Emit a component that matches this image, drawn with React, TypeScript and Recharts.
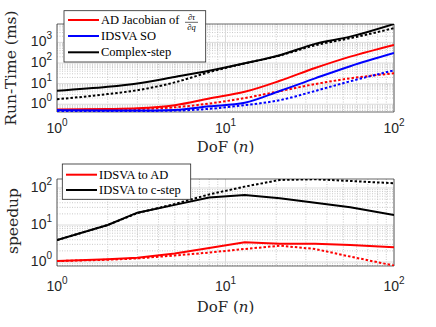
import { CartesianGrid, Line, LineChart, ReferenceArea, XAxis, YAxis } from 'recharts'

// degrees of freedom sampled
const dof = [1, 2, 3, 5, 8, 13, 21, 34, 55, 100]

// run-time (ms), solid = first case, dotted = second case
const adJacobian = [0.55, 0.58, 0.63, 0.9, 1.9, 4.0, 13.7, 57, 204, 760]
const adJacobianDot = [0.52, 0.55, 0.58, 0.71, 1.08, 2.0, 4.3, 9.5, 18, 32]
const idsvaSO = [0.52, 0.5, 0.49, 0.53, 0.79, 1.18, 4.4, 18, 70, 304]
const idsvaSODot = [0.47, 0.47, 0.47, 0.49, 0.6, 0.9, 1.57, 4.4, 13, 44]
const complexStep = [4.5, 7, 10.2, 21, 42, 97, 240, 850, 1900, 7800]
const complexStepDot = [1.75, 3.1, 4.8, 11.5, 36, 95, 230, 720, 1600, 4900]

// speedup
const toAD = [1.06, 1.18, 1.3, 1.7, 2.4, 3.4, 3.1, 3.1, 2.9, 2.5]
const toADDot = [1.06, 1.15, 1.25, 1.5, 1.8, 2.25, 2.76, 2.25, 1.4, 0.8]
const toCstep = [3.9, 10, 21.5, 35, 55, 65, 53, 40, 30, 18.6]
const toCstepDot = [3.9, 10, 21, 37, 67, 109, 165, 172, 155, 134]

const xTicks = [1, 10, 100]
const runTimeTicks = [1, 10, 100, 1000]
const speedupTicks = [1, 10, 100]
const runTimeDomain = [0.42, 7800]
const speedupDomain = [0.78, 175]

const runTimeData = dof.map((n, i) => ({
  n,
  ad: adJacobian[i],
  adDot: adJacobianDot[i],
  id: idsvaSO[i],
  idDot: idsvaSODot[i],
  cs: complexStep[i],
  csDot: complexStepDot[i],
}))

const speedupData = dof.map((n, i) => ({
  n,
  ad: toAD[i],
  adDot: toADDot[i],
  cs: toCstep[i],
  csDot: toCstepDot[i],
}))

const INK = '#262626'
const SERIF = '"DejaVu Serif", serif'
const LEGEND_FONT = '"Liberation Serif", serif'
const SANS = '"Liberation Sans", Arial, sans-serif'
const DOTS = '2.5 2'

// grid values for a log axis: majors at decades, minors at 2..9
function logGrid(lo: number, hi: number) {
  const major: number[] = []
  const minor: number[] = []
  for (let e = -1; e <= 4; e++) {
    for (let k = 1; k < 10; k++) {
      const v = k * Math.pow(10, e)
      if (v < lo || v > hi) continue
      if (k === 1) major.push(v)
      else minor.push(v)
    }
  }
  return { major, minor }
}

function XPowTick({ x, y, payload, dy }: any) {
  const e = Math.round(Math.log10(payload.value))
  return (
    <text x={x} y={y + dy} textAnchor="middle" fontFamily={SANS} fontSize={14} fill={INK}>
      <tspan>10</tspan>
      <tspan dy={-7} fontSize={10}>
        {e}
      </tspan>
    </text>
  )
}

function YPowTick({ x, y, payload }: any) {
  const e = Math.round(Math.log10(payload.value))
  return (
    <text x={x - 5} y={y + 4} textAnchor="end" fontFamily={SANS} fontSize={14} fill={INK}>
      <tspan>10</tspan>
      <tspan dy={-7} fontSize={10}>
        {e}
      </tspan>
    </text>
  )
}

interface SeriesDef {
  key: string
  color: string
  dotted?: boolean
}

interface PanelProps {
  data: any[]
  height: number
  top: number
  xAxisHeight: number
  tickDy: number
  yDomain: number[]
  yTicks: number[]
  series: SeriesDef[]
  curve: 'linear' | 'monotone'
}

function LogPanel({ data, height, top, xAxisHeight, tickDy, yDomain, yTicks, series, curve }: PanelProps) {
  const xg = logGrid(1, 100)
  const yg = logGrid(yDomain[0], yDomain[1])
  return (
    <LineChart
      width={436}
      height={height}
      data={data}
      margin={{ top, right: 42, bottom: 0, left: 0 }}
    >
      <CartesianGrid
        stroke="#c9c9c9"
        strokeDasharray="1 1.5"
        horizontalValues={yg.minor}
        verticalValues={xg.minor}
      />
      <CartesianGrid stroke="#dcdcdc" horizontalValues={yg.major} verticalValues={xg.major} />
      <XAxis
        dataKey="n"
        type="number"
        scale="log"
        domain={[1, 100]}
        ticks={xTicks}
        allowDataOverflow
        height={xAxisHeight}
        axisLine={false}
        tickLine={false}
        tickSize={0}
        tickMargin={0}
        interval={0}
        tick={(p: any) => <XPowTick {...p} dy={tickDy} />}
      />
      <YAxis
        type="number"
        scale="log"
        domain={yDomain}
        ticks={yTicks}
        allowDataOverflow
        width={57}
        axisLine={false}
        tickLine={false}
        tickSize={0}
        tickMargin={0}
        interval={0}
        tick={(p: any) => <YPowTick {...p} />}
      />
      {series.map((s) => (
        <Line
          key={s.key}
          dataKey={s.key}
          type={curve}
          stroke={s.color}
          strokeWidth={2}
          strokeDasharray={s.dotted ? DOTS : undefined}
          dot={false}
          isAnimationActive={false}
        />
      ))}
      <ReferenceArea
        x1={1}
        x2={100}
        y1={yDomain[0]}
        y2={yDomain[1]}
        fill="none"
        stroke={INK}
        strokeWidth={0.7}
        ifOverflow="visible"
      />
    </LineChart>
  )
}

function LegendRow({ x, y, color, label }: { x: number; y: number; color: string; label: any }) {
  return (
    <g>
      <line x1={x} x2={x + 31} y1={y} y2={y} stroke={color} strokeWidth={2} />
      <text x={x + 33} y={y + 4} fontFamily={LEGEND_FONT} fontSize={12.5} fill="#000">
        {label}
      </text>
    </g>
  )
}

function Annotations() {
  return (
    <svg
      width={436}
      height={327}
      style={{ position: 'absolute', left: 0, top: 0, pointerEvents: 'none' }}
    >
      {/* axis titles */}
      <text transform="translate(11,68) rotate(-90)" textAnchor="middle" dy="0.35em" fontFamily={SERIF} fontSize={15.5} fill={INK}>
        Run-Time (ms)
      </text>
      <text transform="translate(13,221) rotate(-90)" textAnchor="middle" dy="0.35em" fontFamily={SERIF} fontSize={15.5} fill={INK}>
        speedup
      </text>
      <text x={225.5} y={152} textAnchor="middle" fontFamily={SERIF} fontSize={15} fill={INK}>
        DoF (<tspan fontStyle="italic">n</tspan>)
      </text>
      <text x={225.5} y={311.5} textAnchor="middle" fontFamily={SERIF} fontSize={15} fill={INK}>
        DoF (<tspan fontStyle="italic">n</tspan>)
      </text>

      {/* top legend */}
      <rect x={64} y={10.7} width={141.7} height={51.3} fill="#fff" stroke={INK} strokeWidth={0.8} />
      <LegendRow x={68} y={20} color="#ff0000" label="AD Jacobian of" />
      <text x={191.5} y={19.5} textAnchor="middle" fontFamily={LEGEND_FONT} fontSize={8.5} fill="#000">
        ∂<tspan fontStyle="italic">τ</tspan>
      </text>
      <line x1={185} x2={198} y1={22.3} y2={22.3} stroke="#000" strokeWidth={0.6} />
      <text x={191.5} y={29.5} textAnchor="middle" fontFamily={LEGEND_FONT} fontSize={8.5} fill="#000">
        ∂<tspan fontStyle="italic">q</tspan>
      </text>
      <LegendRow x={68} y={36} color="#0000ff" label="IDSVA SO" />
      <LegendRow x={68} y={52.3} color="#000000" label="Complex-step" />

      {/* bottom legend */}
      <rect x={62.3} y={164} width={128.4} height={35.3} fill="#fff" stroke={INK} strokeWidth={0.8} />
      <LegendRow x={66} y={174.7} color="#ff0000" label="IDSVA to AD" />
      <LegendRow x={66} y={190} color="#000000" label="IDSVA to c-step" />
    </svg>
  )
}

export default function App() {
  return (
    <div style={{ position: 'absolute', left: 0, top: 0, width: 436, height: 327, background: '#fff' }}>
      <div style={{ position: 'absolute', left: 0, top: 0 }}>
        <LogPanel
          data={runTimeData}
          height={160}
          top={24}
          xAxisHeight={48}
          tickDy={21}
          yDomain={runTimeDomain}
          yTicks={runTimeTicks}
          curve="monotone"
          series={[
            { key: 'ad', color: '#ff0000' },
            { key: 'adDot', color: '#ff0000', dotted: true },
            { key: 'id', color: '#0000ff' },
            { key: 'idDot', color: '#0000ff', dotted: true },
            { key: 'cs', color: '#000000' },
            { key: 'csDot', color: '#000000', dotted: true },
          ]}
        />
      </div>
      <div style={{ position: 'absolute', left: 0, top: 160 }}>
        <LogPanel
          data={speedupData}
          height={167}
          top={19}
          xAxisHeight={61}
          tickDy={25}
          yDomain={speedupDomain}
          yTicks={speedupTicks}
          curve="linear"
          series={[
            { key: 'ad', color: '#ff0000' },
            { key: 'adDot', color: '#ff0000', dotted: true },
            { key: 'cs', color: '#000000' },
            { key: 'csDot', color: '#000000', dotted: true },
          ]}
        />
      </div>
      <Annotations />
    </div>
  )
}
